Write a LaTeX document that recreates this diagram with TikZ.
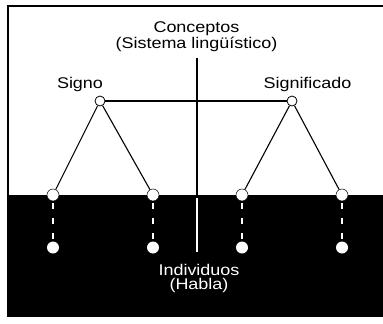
\documentclass[tikz,border=0pt]{standalone}
\usepackage{fontspec}
\setmainfont{Liberation Sans}[FakeStretch=1.16]
\usetikzlibrary{positioning}

\begin{document}
\begin{tikzpicture}[x=1pt, y=-1pt,
  lbl/.style={inner sep=0pt, font=\fontsize{15.5}{14}\selectfont, align=center, anchor=base},
  knot/.style={draw, circle, fill=white, inner sep=0pt, minimum size=10pt, line width=0.8pt},
  edge/.style={draw, circle, fill=white, inner sep=0pt, minimum size=12pt, line width=0.5pt},
  dot/.style={circle, fill=white, inner sep=0pt, minimum size=12pt},
  arm/.style={line width=1.1pt},
  link/.style={white, line width=1.2pt, dash pattern=on 6pt off 9pt, dash phase=-2pt}]
\useasboundingbox (0,0) rectangle (383,324);
% frame and lower half
\fill[black] (8,195) rectangle (392,316);
\draw[line width=1.4pt] (8,6) rectangle (392,316);
% axis
\coordinate (ax1) at (197,58);
\coordinate (ax2) at (197,195);
\coordinate (ax3) at (197,198);
\coordinate (ax4) at (197,252);
\draw[arm] (ax1) -- (ax2);
\draw[arm, white] (ax3) -- (ax4);
% labels
\node[lbl] (conc) at (196.5,48) {Conceptos\\(Sistema lingüístico)};
\node[lbl, white] (indiv) at (199,289) {Individuos\\(Habla)};
\node[lbl] (signo) at (80,88) {Signo};
\node[lbl] (sdo) at (307.5,88) {Significado};
% upper nodes
\node[knot] (x1) at (100,101) {};
\node[knot] (x2) at (292,101) {};
\draw[arm] (x1) -- (x2);
% nodes on the border
\node[edge] (y1) at (53,195) {};
\node[edge] (y2) at (153,195) {};
\node[edge] (y3) at (242,195) {};
\node[edge] (y4) at (342,195) {};
% lower nodes
\node[dot] (z1) at (53,247.5) {};
\node[dot] (z2) at (153,247.5) {};
\node[dot] (z3) at (242,247.5) {};
\node[dot] (z4) at (342,247.5) {};
\draw[arm] (x1) -- (y1);
\draw[arm] (x1) -- (y2);
\draw[arm] (x2) -- (y3);
\draw[arm] (x2) -- (y4);
\draw[link] (y1) -- (z1);
\draw[link] (y2) -- (z2);
\draw[link] (y3) -- (z3);
\draw[link] (y4) -- (z4);
\end{tikzpicture}
\end{document}
